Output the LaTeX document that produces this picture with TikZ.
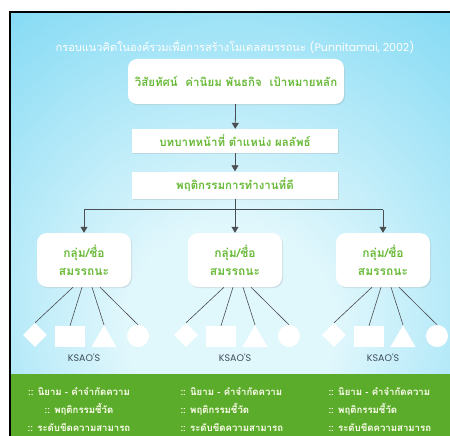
\documentclass[tikz,border=0pt]{standalone}
\usepackage{fontspec}
\newfontfamily\thaifont[Script=Thai]{Loma}
\newfontfamily\latinfont{Poppins}
\usetikzlibrary{arrows.meta,shapes.geometric,shadows}
\definecolor{bgin}{RGB}{224,247,252}
\definecolor{bgout}{RGB}{116,213,243}
\definecolor{textgreen}{RGB}{104,186,56}
\definecolor{bandgreen}{RGB}{92,172,44}
\definecolor{linegray}{RGB}{75,78,82}
\definecolor{ksaogray}{RGB}{60,75,88}
\pgfdeclareradialshading{bgshade}{\pgfpoint{0bp}{-14bp}}{color(0bp)=(bgin); color(12bp)=(bgin); color(46bp)=(bgout); color(80bp)=(bgout)}

\tikzset{
  whitebox/.style={fill=white, text=textgreen, inner sep=0pt,
    drop shadow={shadow xshift=1pt, shadow yshift=-1.2pt, opacity=.2}},
  groupbox/.style={whitebox, rounded corners=10pt, minimum width=94pt,
    minimum height=54pt, align=center, font=\thaifont\bfseries\fontsize{12}{18}\selectfont},
  kshape/.style={fill=white, inner sep=0pt},
  bandtext/.style={text=white!94!yellow, font=\thaifont\bfseries\fontsize{9.6}{18}\selectfont},
  link/.style={linegray, line width=.8pt}
}

\begin{document}
\begin{tikzpicture}[x=1pt, y=-1pt, >={Triangle[width=7pt,length=6pt]}]
\useasboundingbox (0,0) rectangle (450,436);
\fill[white] (0,0) rectangle (450,436);
\path[shading=bgshade] (10,12) rectangle (450,436);
\fill[bandgreen] (10,374) rectangle (450,436);
\draw[line width=1.6pt] (10,436) -- (10,12) -- (450,12);

\node[text=white, font=\thaifont\fontsize{11}{13}\selectfont] (title) at (235,47)
  {กรอบแนวคิดในองค์รวมเพื่อการสร้างโมเดลสมรรถนะ {\latinfont (Punnitamai, 2002)}};

\node[whitebox, rounded corners=9pt, minimum width=216pt, minimum height=45pt,
  font=\thaifont\bfseries\fontsize{11.5}{15}\selectfont] (vision) at (236,81.5)
  {วิสัยทัศน์ \ ค่านิยม พันธกิจ \ เป้าหมายหลัก};
\node[whitebox, minimum width=206pt, minimum height=24pt,
  font=\thaifont\bfseries\fontsize{11.5}{15}\selectfont] (role) at (235,141)
  {บทบาทหน้าที่ ตำแหน่ง ผลลัพธ์};
\node[whitebox, minimum width=206pt, minimum height=27pt,
  font=\thaifont\bfseries\fontsize{11.5}{15}\selectfont] (work) at (235,185)
  {พฤติกรรมการทำงานที่ดี};

\draw[link, ->] (vision) -- (role);
\draw[link, ->] (role) -- (work);
\draw[link] (work.south) -- ++(0,11) coordinate (split);

\foreach \g/\x in {a/84,b/235,c/383} {
  \node[groupbox] (g\g) at (\x,260) {กลุ่ม/ชื่อ\\สมรรถนะ};
  \node[kshape, diamond, minimum width=24pt, minimum height=24pt] (d\g) at (\x-49,335) {};
  \node[kshape, minimum width=30pt, minimum height=21pt] (s\g) at (\x-14,336.5) {};
  \node[kshape, regular polygon, regular polygon sides=3, minimum size=29pt] (t\g) at (\x+20,339.75) {};
  \node[kshape, circle, minimum size=22pt] (c\g) at (\x+54,336) {};
  \node[text=ksaogray, font=\latinfont\fontsize{9.5}{11}\selectfont] (k\g) at (\x,358) {KSAO'S};
  \draw[link, ->] (split -| g\g.north) -- (g\g.north);
  \draw[linegray, line width=.6pt]
    ([xshift=-11pt]g\g.south) -- (d\g.north)
    ([xshift=-2pt]g\g.south) -- (s\g.north)
    ([xshift=8pt]g\g.south) -- (t\g.north)
    ([xshift=16pt]g\g.south) -- (c\g.north);
}
\draw[link] (split -| ga.north) -- (split -| gc.north);

% green band
\node[bandtext, align=center] (defa) at (79,410)
  {:: นิยาม - คำจำกัดความ\\:: พฤติกรรมชี้วัด\\:: ระดับขีดความสามารถ};
\node[bandtext, align=left, anchor=west] (defb) at (177,410)
  {:: นิยาม - คำจำกัดความ\\:: พฤติกรรมชี้วัด\\:: ระดับขีดความสามารถ};
\node[bandtext, align=left, anchor=west] (defc) at (325,410)
  {:: นิยาม - คำจำกัดความ\\:: พฤติกรรมชี้วัด\\:: ระดับขีดความสามารถ};
\end{tikzpicture}
\end{document}
